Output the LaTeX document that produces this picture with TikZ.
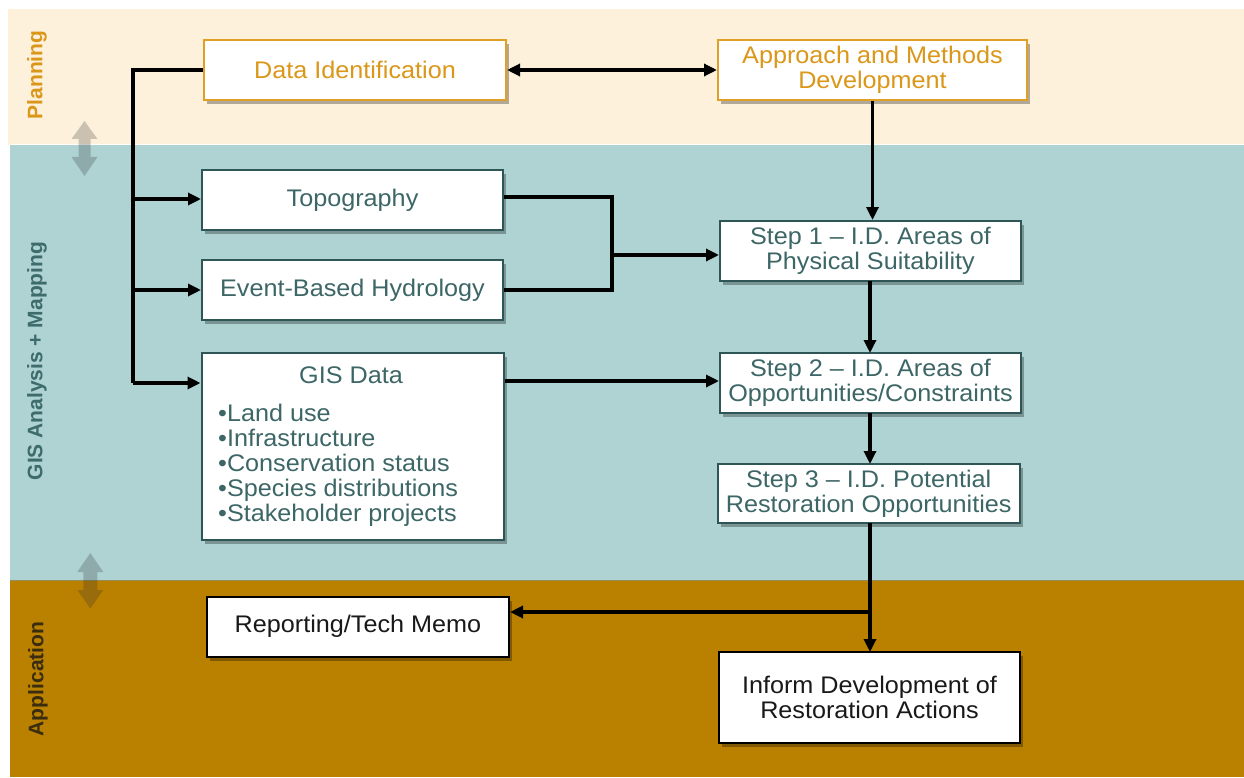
\documentclass[tikz,border=0pt]{standalone}
\usepackage{fontspec}
\setmainfont{Liberation Sans}
\newfontfamily\boxfont[FakeStretch=1.05]{Liberation Sans}
\usetikzlibrary{arrows.meta,shadows}
\definecolor{planbg}{HTML}{FDF1DC}
\definecolor{gisbg}{HTML}{AFD3D3}
\definecolor{appbg}{HTML}{BA8000}
\definecolor{plantext}{HTML}{DA9719}
\definecolor{planline}{HTML}{E0A028}
\definecolor{gistext}{HTML}{3D6666}
\definecolor{gisline}{HTML}{2E5656}
\definecolor{gislabel}{HTML}{3E6B6B}
\definecolor{applabel}{HTML}{3A2C0E}
\begin{document}
\begin{tikzpicture}[x=1pt,y=-1pt,
  box/.style={draw, line width=2pt, fill=white, inner sep=0pt, align=center,
    font=\boxfont\fontsize{24}{25}\selectfont,
    drop shadow={shadow xshift=3pt, shadow yshift=-4pt, opacity=0.3, fill=black}},
  planbox/.style={box, draw=planline, text=plantext},
  gisbox/.style={box, draw=gisline, text=gistext},
  appbox/.style={box, draw=black, text=black!90},
  conn/.style={line width=3.2pt, -{Triangle[length=13pt,width=12pt]}},
  bareline/.style={line width=3.2pt},
  side/.style={rotate=90, font=\bfseries\fontsize{21}{21}\selectfont},
  dblarrow/.style={fill=black!80, fill opacity=0.25},
  gistxt/.style={text=gistext, inner sep=0pt, font=\boxfont\fontsize{24}{25}\selectfont}
]
\useasboundingbox (0,0) rectangle (1244,778);
% bands
\fill[planbg] (8,9) rectangle (1244,145);
\fill[gisbg] (10,145) rectangle (1244,580);
\fill[appbg] (10,580) rectangle (1244,777);
\draw[white!85!planbg, line width=1pt] (10,145) -- (1244,145);
\draw[gisbg!70!black!60!appbg, line width=1pt] (10,580) -- (1244,580);

% side labels
\node[side, text=plantext] (lplan) at (37,75) {Planning};
\node[side, text=gislabel] (lgis) at (37,361) {GIS Analysis + Mapping};
\node[side, text=applabel] (lapp) at (38,679) {Application};

% double arrows between bands
\fill[dblarrow] (84.5,121) -- (97.5,139) -- (90.5,139) -- (90.5,157) -- (97.5,157) -- (84.5,176)
  -- (71.5,157) -- (78.5,157) -- (78.5,139) -- (71.5,139) -- cycle;
\fill[dblarrow] (90.3,553) -- (103.3,572) -- (97.3,572) -- (97.3,590) -- (103.3,590) -- (90.3,608.5)
  -- (77.3,590) -- (83.3,590) -- (83.3,572) -- (77.3,572) -- cycle;

% nodes
\node[planbox, minimum width=302pt, minimum height=60pt] (dataid) at (355,70) {Data Identification};
\node[planbox, minimum width=309pt, minimum height=60pt] (approach) at (872.5,70) {Approach and Methods\\Development};
\node[gisbox, minimum width=301pt, minimum height=60pt] (topo) at (352.5,200) {Topography};
\node[gisbox, minimum width=301pt, minimum height=60pt] (hydro) at (352.5,290) {Event-Based Hydrology};
\node[gisbox, minimum width=302pt, minimum height=187pt] (gis) at (352.5,446.5) {};
\node[gistxt, anchor=base] (gistitle) at (351,383) {GIS Data};
\node[gistxt, anchor=north west, align=left] (gislist) at (218,404)
  {•Land use\\•Infrastructure\\•Conservation status\\•Species distributions\\•Stakeholder projects};
\node[gisbox, minimum width=301pt, minimum height=60pt] (step1) at (870.5,251) {Step 1 – I.D. Areas of\\Physical Suitability};
\node[gisbox, minimum width=301pt, minimum height=60pt] (step2) at (870.5,383) {Step 2 – I.D. Areas of\\Opportunities/Constraints};
\node[gisbox, minimum width=302pt, minimum height=59pt] (step3) at (868.7,493.7) {Step 3 – I.D. Potential\\Restoration Opportunities};
\node[appbox, minimum width=302pt, minimum height=60pt] (report) at (358,626.7) {Reporting/Tech Memo};
\node[appbox, minimum width=301pt, minimum height=91pt] (inform) at (869.5,697.5) {Inform Development of\\Restoration Actions};

% connectors
\coordinate (busTop) at (133,70);
\coordinate (busT) at (133,199);
\coordinate (busH) at (133,290);
\coordinate (busG) at (133,383);
\draw[bareline, line join=miter] (dataid.west) -- (busTop) -- (busG);
\draw[conn] (busT) -- (topo.west |- busT);
\draw[conn] (busH) -- (hydro.west |- busH);
\draw[conn] (busG) -- (gis.west |- busG);

\draw[line width=3.2pt, {Triangle[length=13pt,width=12pt]}-{Triangle[length=13pt,width=12pt]}] (dataid.east) -- (approach.west);
\draw[conn] (approach.south) -- (approach.south |- step1.north);

\coordinate (jTop) at (612,197);
\coordinate (jBot) at (612,290);
\coordinate (jMid) at (612,255);
\draw[bareline, line join=miter] (topo.east |- jTop) -- (jTop) -- (jBot) -- (hydro.east |- jBot);
\draw[conn] (jMid) -- (step1.west |- jMid);

\draw[conn] (gis.east |- 0,381) -- (step2.west |- 0,381);
\draw[conn] (870,281) coordinate (s1s) -- (870,353) coordinate (s2n);
\draw[conn] (870,413) coordinate (s2s) -- (870,464) coordinate (s3n);
\coordinate (s3s) at (870,523.3);
\coordinate (branch) at (870,612);
\draw[conn] (s3s) -- (870,652) coordinate (infn);
\draw[conn] (branch) -- (report.east |- branch);
\end{tikzpicture}
\end{document}
